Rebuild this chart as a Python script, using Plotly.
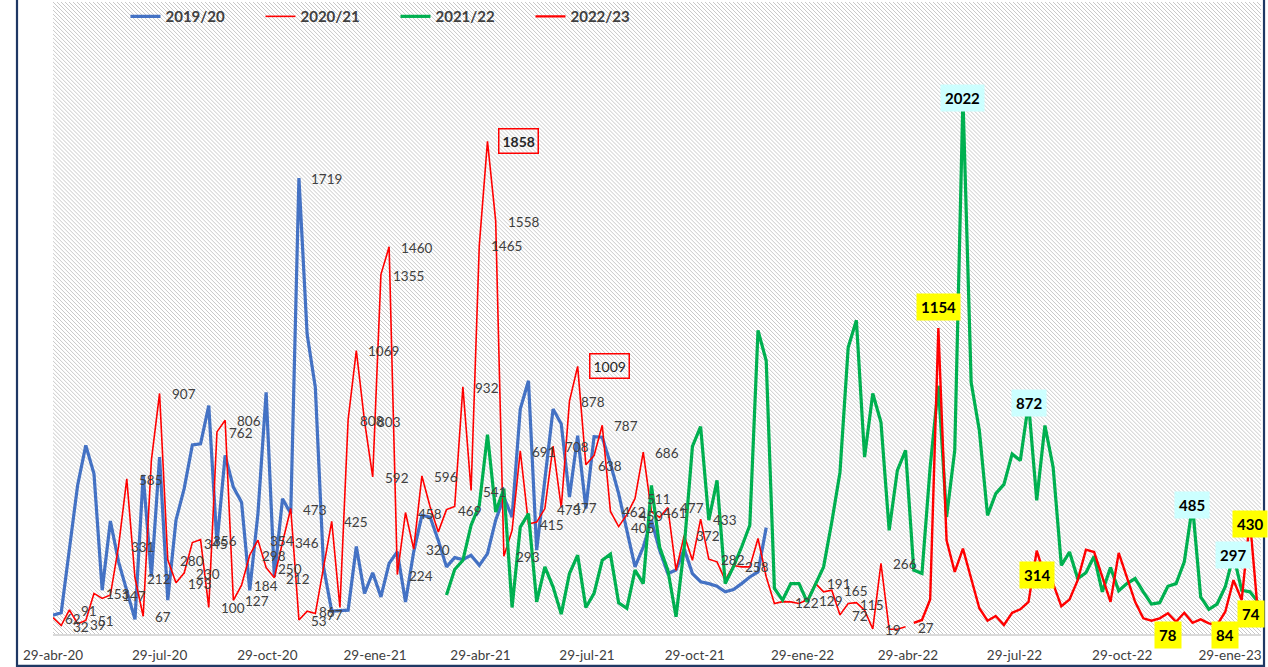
import base64
import pandas as pd
import plotly.graph_objects as go

# ---------------- data (weekly values) ----------------
week0 = "2020-04-29"
n_weeks = 148

s_1920 = [71, 80, 320, 560, 711, 604, 165, 426, 272, 165, 55, 600, 216, 667, 128, 429, 548, 713, 717, 861,
          341, 673, 554, 497, 165, 454, 911, 216, 510, 454, 1719, 1130, 930, 253, 86, 88, 90, 330, 153, 231,
          140, 266, 310, 121, 310, 447, 441, 353, 253, 288, 281, 297, 259, 303, 429, 516, 441, 848, 955, 316,
          579, 848, 792, 516, 748, 473, 744, 742, 642, 529, 391, 253, 328, 429, 316, 228, 241, 320, 228, 197,
          190, 180, 159, 168, 190, 215, 234, 401]
s_2021 = [62, 32, 91, 39, 51, 153, 134, 147, 331, 585, 212, 67, 655, 907, 280, 193, 230, 345, 356, 100,
          762, 806, 127, 184, 298, 354, 250, 212, 346, 473, 53, 86, 77, 250, 425, 100, 808, 1069, 803, 592,
          1355, 1460, 224, 458, 320, 596, 480, 385, 469, 481, 932, 541, 1465, 1858, 1558, 293, 391, 691, 415, 422,
          473, 708, 477, 878, 1009, 638, 673, 787, 462, 405, 450, 511, 686, 461, 440, 477, 240, 372, 278, 433,
          282, 272, 203, 258, 253, 253, 360, 216, 115, 122, 121, 115, 129, 191, 159, 165, 72, 115, 118, 90,
          19, 266, 18, 18, 27]
s_2122 = [147, 243, 278, 410, 485, 752, 460, 548, 100, 403, 454, 121, 253, 178, 75, 228, 297, 100, 153, 278,
          301, 118, 97, 241, 190, 560, 328, 241, 65, 328, 707, 782, 429, 579, 190, 253, 328, 410, 1145, 1030,
          172, 128, 190, 190, 121, 184, 253, 422, 610, 1080, 1183, 667, 907, 798, 391, 617, 692, 241, 228, 629,
          936, 441, 692, 2022, 949, 767, 447, 529, 564, 679, 654, 872, 504, 786, 629, 259, 309, 209, 231, 293,
          159, 251, 163, 190, 209, 159, 113, 118, 180, 190, 272, 485, 140, 93, 113, 178, 297, 165, 159, 121]
s_2223 = [42, 53, 130, 1154, 353, 234, 322, 209, 97, 50, 68, 34, 80, 93, 121, 314, 215, 190, 105, 130,
          203, 318, 309, 215, 121, 306, 209, 121, 59, 50, 59, 78, 46, 80, 42, 55, 40, 34, 84, 203,
          128, 430, 74]

series_names = ["2019/20", "2020/21", "2021/22", "2022/23"]
series_values = [s_1920, s_2021, s_2122, s_2223]
series_start_week = [0, 0, 48, 105]

# weeks (index inside each series) that carry a data label
labels_1920 = [30]
labels_2021 = [0, 1, 2, 3, 4, 5, 7, 8, 9, 10, 11, 13, 14, 15, 16, 17, 18, 19, 20, 21, 22, 23, 24, 25, 26,
               27, 28, 29, 30, 31, 32, 34, 36, 37, 38, 39, 40, 41, 42, 43, 44, 45, 48, 50, 51, 52, 54, 55,
               57, 58, 60, 61, 62, 63, 65, 67, 68, 69, 70, 71, 72, 73, 75, 77, 79, 80, 83, 89, 92, 93, 95,
               96, 97, 100, 101, 104]
boxed_2021 = [53, 64]
labels_2122 = [63, 71, 91, 96]            # cyan boxes
labels_2223 = [3, 15, 31, 38, 41, 42]      # yellow boxes

tick_dates = ["2020-04-29", "2020-07-29", "2020-10-29", "2021-01-29", "2021-04-29", "2021-07-29",
              "2021-10-29", "2022-01-29", "2022-04-29", "2022-07-29", "2022-10-29", "2023-01-29"]
tick_text = ["29-abr-20", "29-jul-20", "29-oct-20", "29-ene-21", "29-abr-21", "29-jul-21",
             "29-oct-21", "29-ene-22", "29-abr-22", "29-jul-22", "29-oct-22", "29-ene-23"]

# ---------------- styling ----------------
colors = ["#4472C4", "#FF0000", "#00B050", "#FF0000"]
widths = [3.2, 1.6, 3.2, 2.4]
FONT = "Lato, 'Liberation Sans', Arial, sans-serif"
TXT = "#404040"

weeks = pd.date_range(week0, periods=n_weeks, freq="7D")


def xs(k):
    st = series_start_week[k]
    return list(weeks[st:st + len(series_values[k])])


fig = go.Figure()
for k, name in enumerate(series_names):
    fig.add_trace(go.Scatter(x=xs(k), y=series_values[k], mode="lines", name=name,
                             line=dict(color=colors[k], width=widths[k]),
                             hoverinfo="skip"))

ann = []


def plain(k, idx_list):
    x = xs(k)
    for i in idx_list:
        ann.append(dict(x=x[i], y=series_values[k][i], text=str(series_values[k][i]), showarrow=False,
                        xanchor="left", yanchor="middle", xshift=10, yshift=-1,
                        font=dict(family=FONT, size=13.5, color=TXT)))


plain(0, labels_1920)
plain(1, labels_2021)

x1 = xs(1)
for j, i in enumerate(boxed_2021):
    ann.append(dict(x=x1[i], y=s_2021[i], text=("<b>%d</b>" if j == 0 else "%d") % s_2021[i],
                    showarrow=False, xanchor="left", yanchor="middle", xshift=11,
                    bordercolor="#FF0000", borderwidth=1.5, borderpad=3,
                    font=dict(family=FONT, size=14, color="#262626")))

x2 = xs(2)
for i in labels_2122:
    ann.append(dict(x=x2[i], y=s_2122[i], text="<b>%d</b>" % s_2122[i], showarrow=False,
                    xanchor="center", yanchor="middle", bgcolor="#CCFFFF", borderpad=4,
                    font=dict(family=FONT, size=15, color="#000000")))

x3 = xs(3)
shifts_2223 = [(0, 21), (0, -24), (0, -22), (0, -23), (0, -4), (-7, 0)]
for (i, (dx, dy)) in zip(labels_2223, shifts_2223):
    ann.append(dict(x=x3[i], y=s_2223[i], text="<b>%d</b>" % s_2223[i], showarrow=False,
                    xanchor="center", yanchor="middle", xshift=dx, yshift=dy,
                    bgcolor="#FFFF00", borderpad=4,
                    font=dict(family=FONT, size=15, color="#000000")))

# hatch background (light downward diagonal)
W, H = 1208, 634
svg = ('<svg xmlns="http://www.w3.org/2000/svg" width="%d" height="%d" shape-rendering="crispEdges">'
       '<defs><pattern id="h" width="4" height="4" patternUnits="userSpaceOnUse">'
       '<rect width="4" height="4" fill="#ffffff"/>'
       '<rect x="0" y="0" width="1" height="1" fill="#c8c8c8"/>'
       '<rect x="1" y="1" width="1" height="1" fill="#c8c8c8"/>'
       '<rect x="2" y="2" width="1" height="1" fill="#c8c8c8"/>'
       '<rect x="3" y="3" width="1" height="1" fill="#c8c8c8"/>'
       '</pattern></defs><rect width="%d" height="%d" fill="url(#h)"/></svg>') % (W, H, W, H)
src = "data:image/svg+xml;base64," + base64.b64encode(svg.encode()).decode()

fig.update_layout(
    width=1268, height=667,
    margin=dict(l=53, r=7, t=0, b=33),
    paper_bgcolor="#FFFFFF", plot_bgcolor="#FFFFFF",
    showlegend=True,
    legend=dict(orientation="h", x=0.06, y=1.003, xanchor="left", yanchor="top",
                bgcolor="rgba(0,0,0,0)", font=dict(family=FONT, size=15, color=TXT, weight="bold"),
                entrywidth=90, entrywidthmode="pixels", itemwidth=30),
    images=[dict(source=src, xref="paper", yref="paper", x=0, y=1, sizex=1, sizey=1,
                 xanchor="left", yanchor="top", sizing="stretch", layer="below")],
    annotations=ann,
    shapes=[dict(type="rect", xref="paper", yref="paper", x0=-0.0298, x1=1.0025, y0=-0.0505, y1=1.05,
                 line=dict(color="#1F3864", width=2.2), fillcolor="rgba(0,0,0,0)", layer="above")],
    xaxis=dict(type="date", range=["2020-04-29", "2023-02-24 12:00"], tickvals=tick_dates, ticktext=tick_text,
               showgrid=False, zeroline=False, showline=True, linecolor="#D9D9D9", linewidth=2,
               ticks="", ticklabelstandoff=8, tickfont=dict(family=FONT, size=13.5, color=TXT)),
    yaxis=dict(range=[0, 2383], showgrid=False, zeroline=False, showticklabels=False, showline=False,
               ticks=""),
)

fig.write_html("out.html", config={"displayModeBar": False},
               post_script="document.body.style.margin='0';document.body.style.overflow='hidden';")
